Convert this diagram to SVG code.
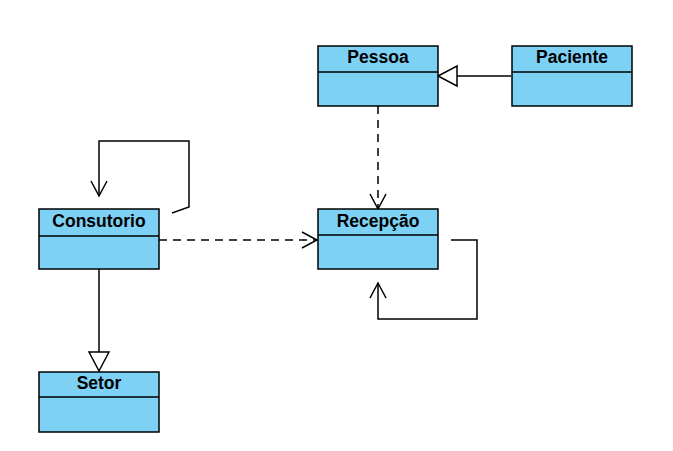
<svg xmlns="http://www.w3.org/2000/svg" width="673" height="451" viewBox="0 0 673 451">
<style>
.box{fill:#7dd1f5;stroke:#000;stroke-width:1.5}
.t{font-family:"Liberation Sans",Arial,sans-serif;font-weight:bold;font-size:17.5px;text-anchor:middle;fill:#000}
.ln{fill:none;stroke:#000;stroke-width:1.5}
.dash{stroke-dasharray:8 6}
</style>
<defs>
<marker id="open" markerWidth="20" markerHeight="20" refX="16" refY="10" orient="auto" markerUnits="userSpaceOnUse">
<path d="M1,2 L16,10 L1,18" fill="none" stroke="#000" stroke-width="1.5"/>
</marker>
<marker id="tri" markerWidth="22" markerHeight="24" refX="20" refY="12" orient="auto" markerUnits="userSpaceOnUse">
<path d="M1,2 L20,12 L1,22 Z" fill="#fff" stroke="#000" stroke-width="1.5"/>
</marker>
</defs>
<rect width="673" height="451" fill="#fff"/>
<g id="connectors">
<path class="ln" d="M511,76 L438,76" marker-end="url(#tri)"/>
<path class="ln dash" d="M378,106 L378,209" marker-end="url(#open)"/>
<path class="ln dash" d="M159,240 L317,240" marker-end="url(#open)"/>
<path class="ln" d="M172,213 L189,207 L189,141 L99,141 L99,196" marker-end="url(#open)"/>
<path class="ln" d="M451,240 L477,240 L477,319 L378,319 L378,283" marker-end="url(#open)"/>
<path class="ln" d="M99,269 L99,371" marker-end="url(#tri)"/>
</g>
<g id="Pessoa">
<rect class="box" x="318" y="46" width="120" height="60"/>
<line class="ln" x1="318" y1="72" x2="438" y2="72"/>
<text class="t" x="378" y="63">Pessoa</text>
</g>
<g id="Paciente">
<rect class="box" x="512" y="46" width="120" height="60"/>
<line class="ln" x1="512" y1="72" x2="632" y2="72"/>
<text class="t" x="572" y="63">Paciente</text>
</g>
<g id="Consutorio">
<rect class="box" x="39" y="209" width="120" height="60"/>
<line class="ln" x1="39" y1="236" x2="159" y2="236"/>
<text class="t" x="99" y="227">Consutorio</text>
</g>
<g id="Recepcao">
<rect class="box" x="318" y="209" width="120" height="60"/>
<line class="ln" x1="318" y1="235" x2="438" y2="235"/>
<text class="t" x="378" y="227">Recepção</text>
</g>
<g id="Setor">
<rect class="box" x="39" y="372" width="120" height="60"/>
<line class="ln" x1="39" y1="397" x2="159" y2="397"/>
<text class="t" x="99" y="389">Setor</text>
</g>
</svg>
